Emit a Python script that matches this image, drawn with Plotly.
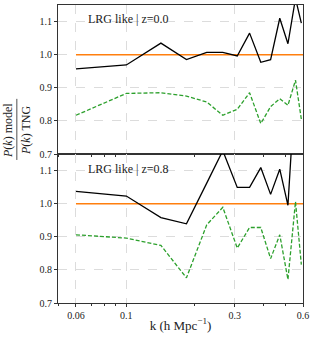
import plotly.graph_objects as go
from plotly.subplots import make_subplots

k = [0.06, 0.1, 0.142, 0.184, 0.226, 0.266, 0.308, 0.349, 0.391, 0.432, 0.474, 0.515, 0.556, 0.59]

z0_black = [0.957, 0.969, 1.035, 0.985, 1.007, 1.007, 0.996, 1.065, 0.977, 0.985, 1.11, 1.033, 1.17, 1.095]
z0_green = [0.817, 0.883, 0.885, 0.875, 0.857, 0.817, 0.835, 0.885, 0.792, 0.843, 0.867, 0.847, 0.923, 0.805]

z8_black = [1.037, 1.023, 0.958, 0.939, 1.062, 1.16, 1.049, 1.049, 1.109, 1.028, 1.104, 0.995, 1.37, 1.3]
z8_green = [0.906, 0.896, 0.874, 0.776, 0.936, 0.989, 0.866, 0.928, 0.928, 0.834, 0.906, 0.771, 1.006, 0.816]

ref_k = [0.06, 0.6]
ref_v = [1.0, 1.0]

panel_labels = ["LRG like | z=0.0", "LRG like | z=0.8"]
x_ticks = [0.06, 0.1, 0.3, 0.6]
x_ticktext = ["0.06", "0.1", "0.3", "0.6"]
x_minor = [0.05, 0.07, 0.08, 0.09, 0.2, 0.4, 0.5]
y_ticks = [0.7, 0.8, 0.9, 1.0, 1.1]

FONT = "Liberation Serif"

fig = make_subplots(rows=2, cols=1, shared_xaxes=True, vertical_spacing=0)

series = [(z0_black, z0_green), (z8_black, z8_green)]
for i, (blk, grn) in enumerate(series, start=1):
    fig.add_trace(go.Scatter(x=ref_k, y=ref_v, mode="lines",
                             line=dict(color="#ff7f0e", width=1.5), showlegend=False), row=i, col=1)
    fig.add_trace(go.Scatter(x=k, y=blk, mode="lines",
                             line=dict(color="black", width=1.3), showlegend=False), row=i, col=1)
    fig.add_trace(go.Scatter(x=k, y=grn, mode="lines",
                             line=dict(color="#2ca02c", width=1.3, dash="4px,2px"), showlegend=False), row=i, col=1)

axis_common = dict(showline=True, mirror=True, linecolor="#333", linewidth=1,
                   showgrid=True, gridcolor="#dcdcdc", griddash="dash", gridwidth=0.8,
                   zeroline=False, ticks="outside", ticklen=3, tickcolor="#333",
                   tickfont=dict(family=FONT, size=10, color="#222"))

for i in (1, 2):
    fig.update_xaxes(type="log", range=[-1.30103, -0.2218487], tickvals=x_ticks, ticktext=x_ticktext,
                     minor=dict(tickvals=x_minor, ticks="outside", ticklen=2, tickcolor="#333", showgrid=False),
                     showticklabels=(i == 2), row=i, col=1, **axis_common)
    fig.update_yaxes(range=[0.7, 1.15], tickvals=y_ticks, ticktext=[f"{v:.1f}" for v in y_ticks],
                     row=i, col=1, **axis_common)

fig.update_xaxes(title=dict(text="k (h Mpc<sup>−1</sup>)", font=dict(family=FONT, size=13, color="#222"),
                            standoff=0), row=2, col=1)

LX = -0.168
annotations = [
    dict(text=panel_labels[0], xref="x domain", yref="y domain", x=0.115, y=0.905, xanchor="left",
         yanchor="middle", showarrow=False, font=dict(family=FONT, size=12, color="#222")),
    dict(text=panel_labels[1], xref="x2 domain", yref="y2 domain", x=0.115, y=0.9, xanchor="left",
         yanchor="middle", showarrow=False, font=dict(family=FONT, size=12, color="#222")),
    dict(text="<i>P</i>(<i>k</i>) model", xref="paper", yref="paper", x=LX, y=0.58,
         xanchor="right", yanchor="middle", textangle=-90, showarrow=False, xshift=0,
         font=dict(family=FONT, size=12, color="#222")),
    dict(text="<i>P</i>(<i>k</i>) TNG", xref="paper", yref="paper", x=LX, y=0.58,
         xanchor="left", yanchor="middle", textangle=-90, showarrow=False, xshift=0,
         font=dict(family=FONT, size=12, color="#222")),
]
fig.update_layout(annotations=annotations)

fig.add_shape(type="line", xref="paper", yref="paper", x0=LX, x1=LX, y0=0.48, y1=0.685,
              line=dict(color="#222", width=0.8))

fig.update_layout(width=315, height=341, margin=dict(l=58, r=12, t=5, b=38),
                  plot_bgcolor="white", paper_bgcolor="white", showlegend=False)

fig.write_html("out.html", config={"displayModeBar": False},
               post_script="document.body.style.margin='0';document.body.style.padding='0';")
